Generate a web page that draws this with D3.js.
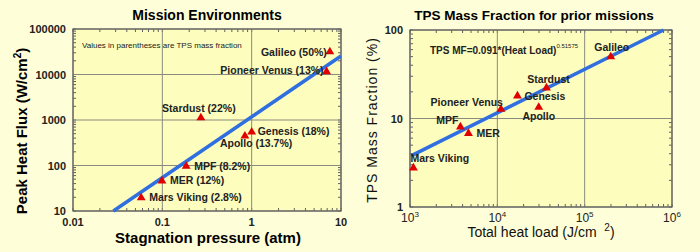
<!DOCTYPE html>
<html><head><meta charset="utf-8">
<script src="https://cdn.jsdelivr.net/npm/d3@7"></script>
<style>
html,body{margin:0;padding:0;background:#fefed8;}
svg{display:block;font-family:Arial,"Liberation Sans",sans-serif;}
</style></head>
<body>
<svg id="c" width="700" height="252"></svg>
<script>
// ---------- Left chart data ----------
const leftMissions = ["Galileo (50%)","Pioneer Venus (13%)","Stardust (22%)","Genesis (18%)","Apollo (13.7%)","MPF (8.2%)","MER (12%)","Mars Viking (2.8%)"];
const leftPressure = [7.5, 6.9, 0.27, 1.0, 0.84, 0.185, 0.099, 0.058];
const leftHeatFlux = [31600, 11500, 1120, 545, 445, 96, 46, 19.5];
const leftFitX = [0.0283, 10];
const leftFitY = [10, 25500];
const leftYTicks = [10, 100, 1000, 10000, 100000];
const leftXTicks = [0.01, 0.1, 1, 10];
const leftXTickLabels = ["0.01", "0.1", "1", "10"];

// ---------- Right chart data ----------
const rightMissions = ["Galileo","Stardust","Genesis","Apollo","Pioneer Venus","MPF","MER","Mars Viking"];
const rightHeatLoad = [199000, 36500, 17000, 29800, 11000, 3780, 4670, 1094];
const rightMassFrac = [49.8, 22.2, 18, 13.4, 12.7, 8.05, 6.8, 2.77];
const rightFitX = [1040, 800000];
const rightFitY = [3.8, 100];
const rightXTicks = [1e3, 1e4, 1e5, 1e6];
const rightXExp = ["3", "4", "5", "6"];
const rightYTicks = [1, 10, 100];

const svg = d3.select("#c");
const plotFill = "#fdfdbd", gridC = "#8a8a80", axisC = "#606060";
const blue = "#2f6fe0", red = "#e00000";

function frame(g, x, y, xDom, yDom) {
  const [x0, x1] = x.range(), [y0, y1] = y.range();
  g.append("rect").attr("x", x0).attr("y", y1).attr("width", x1 - x0).attr("height", y0 - y1)
    .attr("fill", plotFill);
  // minor ticks
  const xm = x.ticks(), ym = y.ticks();
  xm.forEach(v => {
    const px = x(v);
    g.append("line").attr("x1", px).attr("x2", px).attr("y1", y0).attr("y2", y0 - 3).attr("stroke", axisC);
    g.append("line").attr("x1", px).attr("x2", px).attr("y1", y1).attr("y2", y1 + 3).attr("stroke", axisC);
  });
  ym.forEach(v => {
    const py = y(v);
    g.append("line").attr("x1", x0).attr("x2", x0 + 3).attr("y1", py).attr("y2", py).attr("stroke", axisC);
    g.append("line").attr("x1", x1).attr("x2", x1 - 3).attr("y1", py).attr("y2", py).attr("stroke", axisC);
  });
  // grid at decades
  xDom.forEach(v => g.append("line").attr("x1", x(v)).attr("x2", x(v)).attr("y1", y0).attr("y2", y1)
    .attr("stroke", gridC).attr("stroke-width", 1));
  yDom.forEach(v => g.append("line").attr("x1", x0).attr("x2", x1).attr("y1", y(v)).attr("y2", y(v))
    .attr("stroke", gridC).attr("stroke-width", 1));
  g.append("rect").attr("x", x0).attr("y", y1).attr("width", x1 - x0).attr("height", y0 - y1)
    .attr("fill", "none").attr("stroke", axisC).attr("stroke-width", 1.2);
}

function tri(g, cx, cy) {
  g.append("path").attr("d", d3.symbol(d3.symbolTriangle, 34)())
    .attr("transform", `translate(${cx},${cy})`).attr("fill", red);
}

// ===== Left chart =====
{
  const g = svg.append("g");
  const x = d3.scaleLog().domain([0.01, 10]).range([73, 341]);
  const y = d3.scaleLog().domain([10, 100000]).range([211, 29]);
  frame(g, x, y, leftXTicks, leftYTicks);

  g.append("text").attr("x", 207).attr("y", 20).attr("text-anchor", "middle")
    .attr("font-weight", "bold").attr("font-size", 14).text("Mission Environments");
  leftYTicks.forEach(v => g.append("text").attr("x", 66).attr("y", y(v) + 4).attr("text-anchor", "end")
    .attr("font-weight", "bold").attr("font-size", 11).attr("fill", "#222").text(v));
  leftXTicks.forEach((v, i) => g.append("text").attr("x", x(v)).attr("y", 226).attr("text-anchor", "middle")
    .attr("font-weight", "bold").attr("font-size", 11).attr("fill", "#222").text(leftXTickLabels[i]));
  g.append("text").attr("x", 208).attr("y", 243).attr("text-anchor", "middle")
    .attr("font-weight", "bold").attr("font-size", 15).text("Stagnation pressure (atm)");
  const yt = g.append("text").attr("transform", "translate(27,131) rotate(-90)").attr("text-anchor", "middle")
    .attr("font-weight", "bold").attr("font-size", 15);
  yt.append("tspan").text("Peak Heat Flux (W/cm");
  yt.append("tspan").attr("dy", -6).attr("font-size", 10).text("2");
  yt.append("tspan").attr("dy", 6).text(")");

  g.append("text").attr("x", 82).attr("y", 48).attr("font-size", 8).attr("fill", "#222")
    .text("Values in parentheses are TPS mass fraction");

  // fit line
  const line = d3.line().x(d => x(d[0])).y(d => y(d[1]));
  g.append("path").datum(leftFitX.map((v, i) => [v, leftFitY[i]])).attr("d", line)
    .attr("stroke", blue).attr("stroke-width", 3.5).attr("fill", "none");

  leftMissions.forEach((m, i) => tri(g, x(leftPressure[i]), y(leftHeatFlux[i])));

  const lab = [
    {a:"end", dx:-3, dy:4}, {a:"end", dx:-3, dy:2}, {a:"middle", dx:-2, dy:-6}, {a:"start", dx:6, dy:3},
    {a:"start", dx:-25, dy:11}, {a:"start", dx:8, dy:4}, {a:"start", dx:8, dy:3}, {a:"start", dx:8, dy:3}
  ];
  leftMissions.forEach((m, i) => g.append("text")
    .attr("x", x(leftPressure[i]) + lab[i].dx).attr("y", y(leftHeatFlux[i]) + lab[i].dy)
    .attr("text-anchor", lab[i].a).attr("font-weight", "bold").attr("font-size", 10.5).attr("fill", "#222")
    .text(m));
}

// ===== Right chart =====
{
  const g = svg.append("g");
  const x = d3.scaleLog().domain([1e3, 1e6]).range([410, 672]);
  const y = d3.scaleLog().domain([1, 100]).range([207, 30]);
  frame(g, x, y, rightXTicks, rightYTicks);

  g.append("text").attr("x", 534).attr("y", 20).attr("text-anchor", "middle")
    .attr("font-weight", "bold").attr("font-size", 13.5).text("TPS Mass Fraction for prior missions");
  rightYTicks.forEach(v => g.append("text").attr("x", 403).attr("y", y(v) + 4).attr("text-anchor", "end")
    .attr("font-weight", "bold").attr("font-size", 11).attr("fill", "#222").text(v));
  rightXTicks.forEach((v, i) => {
    const t = g.append("text").attr("x", x(v)).attr("y", 222).attr("text-anchor", "middle")
      .attr("font-size", 12).attr("fill", "#222");
    t.append("tspan").text("10");
    t.append("tspan").attr("dy", -5).attr("font-size", 8).text(rightXExp[i]);
  });
  const xt = g.append("text").attr("x", 541).attr("y", 237).attr("text-anchor", "middle")
    .attr("font-size", 14).attr("fill", "#111");
  xt.append("tspan").text("Total heat load (J/cm\u00a0\u00a0");
  xt.append("tspan").attr("dy", -6).attr("font-size", 10).text("2");
  xt.append("tspan").attr("dy", 6).text(")");
  g.append("text").attr("transform", "translate(377,120) rotate(-90)").attr("text-anchor", "middle")
    .attr("font-size", 14).attr("letter-spacing", 1).attr("fill", "#111").text("TPS Mass Fraction (%)");

  const ft = g.append("text").attr("x", 430).attr("y", 54).attr("font-weight", "bold")
    .attr("font-size", 10).attr("fill", "#222");
  ft.append("tspan").text("TPS  MF=0.091*(Heat Load)");
  ft.append("tspan").attr("dy", -6).attr("font-size", 6).attr("font-weight", "normal").text("0.51575");

  const line = d3.line().x(d => x(d[0])).y(d => y(d[1]));
  g.append("path").datum(rightFitX.map((v, i) => [v, rightFitY[i]])).attr("d", line)
    .attr("stroke", blue).attr("stroke-width", 3.5).attr("fill", "none");

  rightMissions.forEach((m, i) => tri(g, x(rightHeatLoad[i]), y(rightMassFrac[i])));

  const lab = [
    {a:"middle", dx:1, dy:-6}, {a:"middle", dx:2, dy:-5}, {a:"start", dx:7, dy:4}, {a:"middle", dx:0, dy:13},
    {a:"end", dx:2, dy:-3}, {a:"end", dx:-2, dy:-3}, {a:"start", dx:8, dy:4}, {a:"start", dx:-3, dy:-6}
  ];
  rightMissions.forEach((m, i) => g.append("text")
    .attr("x", x(rightHeatLoad[i]) + lab[i].dx).attr("y", y(rightMassFrac[i]) + lab[i].dy)
    .attr("text-anchor", lab[i].a).attr("font-weight", "bold").attr("font-size", 10.5).attr("fill", "#222")
    .text(m));
}
</script>
</body></html>
